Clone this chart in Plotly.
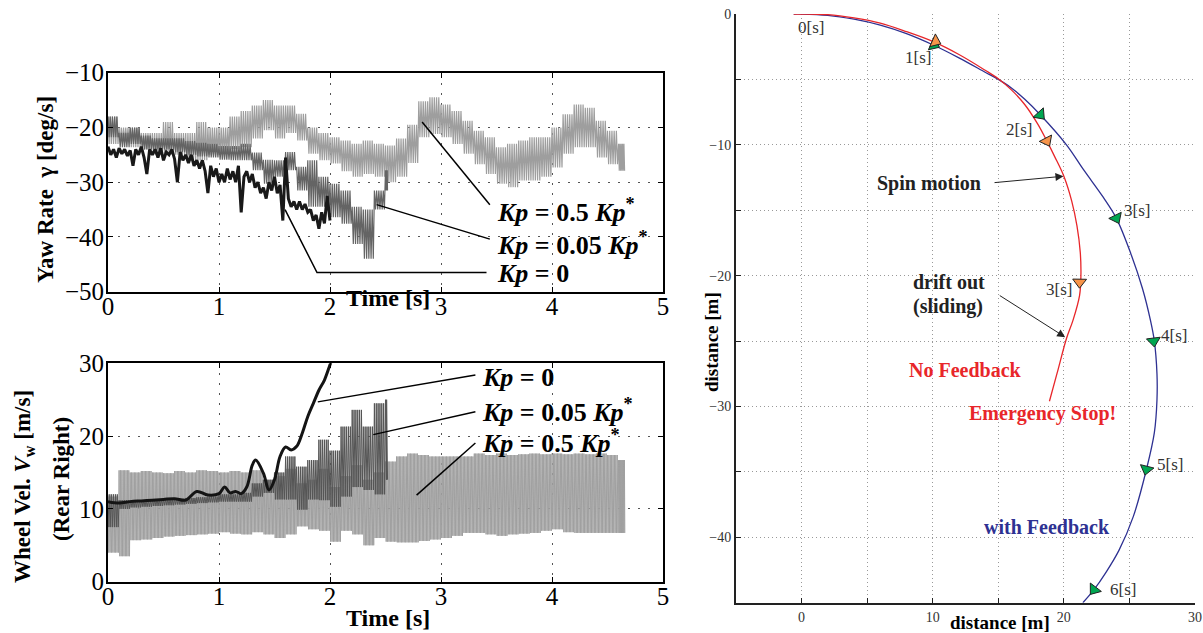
import numpy as np
import plotly.graph_objects as go

# ---------------- data ----------------
# Yaw rate [deg/s]; envelopes (upper / lower) sampled every 0.1 s
YAW_05_T = [round(0.1 * i, 1) for i in range(47)]
YAW_05_UP = [-18, -20, -20, -21, -21, -19, -21, -21, -19, -20, -20, -18, -17, -16, -15, -16, -16, -17.5,
             -20, -21, -21.8, -22.4, -23, -22.4, -23, -23.3, -22, -19.5, -15.2, -14.5, -15.8, -17, -18.8,
             -20.6, -21.8, -23.6, -23, -22.4, -21.8, -21.8, -20, -17.6, -15.8, -16.4, -18.8, -20.6, -23]
YAW_05_LO = [-23, -22.7, -23.6, -24, -25, -25, -25, -26, -26, -25, -25, -24, -23.6, -22, -20.5, -22, -21,
             -22.4, -24.8, -26, -26.6, -28, -29, -28.5, -29, -30, -29, -26.5, -21.8, -21.2, -21.8, -23,
             -24.8, -26.7, -28.5, -30.3, -30.9, -29.7, -29.7, -29, -27.3, -24.8, -23.6, -23.6, -25.5,
             -26.7, -27.9]
YAW_05_END = 4.66

YAW_005_T = [round(0.1 * i, 1) for i in range(26)]
YAW_005_UP = [-18, -21, -20, -21.5, -22, -22, -22, -22.5, -22.8, -23, -23.4, -23.4, -23, -24.6, -25.9,
              -26, -24.5, -27.2, -26, -29, -30.3, -31.5, -34.5, -35, -31.5, -27.8]
YAW_005_LO = [-21.8, -23.6, -23, -24, -24, -24, -24.5, -25, -25.3, -25.5, -25.9, -26, -26, -27.8, -30.3,
              -29, -27.8, -31.5, -34.5, -34.5, -36.4, -37.6, -41.3, -44, -35, -31.5]
YAW_005_END = 2.52

YAW_0_T = [round(0.025 * i, 3) for i in range(81)]
YAW_0 = [-23.5, -25, -24, -25.5, -23.8, -24.8, -24, -25.2, -24.2,
         -27, -24, -25, -23.5, -25.5, -28.5, -24, -25,
         -24, -25.5, -23.8, -26, -24.5, -25, -24, -25.8,
         -30, -24.5, -26, -25, -26.5, -25, -27, -26,
         -27.5, -26, -28, -32, -27, -29, -27.5, -30,
         -28.5, -30, -27.5, -29.5, -28, -30, -27, -35.5,
         -29, -28, -30, -28.5, -31, -30, -32, -31,
         -33, -30, -31.5, -29, -32, -30.5, -37, -25.5,
         -33, -34.5, -33.5, -35, -33.5, -35, -34, -35.5,
         -35, -37, -36, -38.5, -35.5, -37.5, -32.5, -37]

# Wheel velocity [m/s]
WV_05_T = [round(0.1 * i, 1) for i in range(47)]
WV_05_UP = [11.7, 15.3, 15, 15.2, 15, 14.9, 15.2, 15, 15.3, 15.2, 15, 15.2, 15, 15.3, 14, 14.5, 15.5, 13.5,
            14, 15.5, 13, 14.5, 16, 14, 15, 16.5, 17.2, 17.6, 17.4, 17.2, 17.2, 17.2, 17.2, 17.6, 17.4,
            17.6, 17.4, 17.5, 17.6, 17.5, 17.6, 17.5, 17.6, 17.5, 17.6, 17.4, 16.7]
WV_05_LO = [4, 3.5, 5.7, 5.8, 6, 6.2, 6.3, 6.4, 6.5, 6.6, 6.8, 6.6, 6.5, 6.8, 6.5, 6, 6.5, 7.6, 7.2, 7,
            5.5, 7, 6.5, 5, 6, 5.5, 5.4, 5.4, 5.6, 5.8, 6, 6.3, 6.7, 6.7, 6.5, 6.3, 6.5, 6.6, 6.7, 7.0,
            7.2, 6.8, 6.7, 6.7, 6.7, 6.7, 6.7]
WV_05_END = 4.66

WV_005_T = [round(0.1 * i, 1) for i in range(26)]
WV_005_UP = [12, 11.2, 11.2, 11.2, 11.3, 11.3, 11.4, 11.5, 11.6, 11.7, 12, 12, 12.2, 13.5, 14, 15, 17.2,
             15.8, 16.7, 19.5, 18, 21.3, 23.6, 21.3, 24.5, 25]
WV_005_LO = [7.5, 10, 10.2, 10.3, 10.4, 10.5, 10.6, 10.7, 10.8, 10.9, 11, 11, 11, 11.7, 12.2, 11.3, 11.3,
             9.9, 11.3, 11.2, 10.3, 11.7, 13, 12.6, 12, 14]
WV_005_END = 2.52

WV_0_T = [0, 0.1, 0.2, 0.3, 0.4, 0.5, 0.6, 0.7, 0.8, 0.9, 1.0, 1.05, 1.1, 1.15, 1.2, 1.25, 1.3, 1.33,
          1.4, 1.45, 1.5, 1.55, 1.6, 1.65, 1.7, 1.75, 1.8, 1.85, 1.9, 1.95, 2.0, 2.05]
WV_0 = [11.0, 10.8, 11.0, 11.1, 11.2, 11.3, 11.4, 11.2, 12.4, 11.9, 12.1, 13.0, 12.2, 12.4, 12.1, 13.0,
        16.0, 16.7, 14.9, 12.6, 14.0, 17.2, 18.5, 18.1, 18.6, 20.4, 22.7, 24.5, 26.3, 27.7, 29.8, 32.0]

# Trajectories [m]
NF_X = [-0.6, 0, 2, 4, 6, 8, 10, 12, 14, 15, 16, 17, 18, 18.7, 19.3, 20, 20.6, 21.0, 21.25, 21.3,
        21.2, 20.7, 20.2, 19.5, 18.9]
NF_Y = [0, 0, -0.05, -0.3, -0.7, -1.35, -2.1, -3.1, -4.3, -4.95, -5.8, -6.9, -8.4, -9.7, -10.9, -12.4,
        -14.3, -16.2, -18.2, -20.0, -21.5, -23.4, -24.8, -27.4, -29.6]
WF_X = [-0.6, 0, 2, 4, 6, 8, 10, 12, 14, 15, 16, 17, 18.2, 20.2, 21.5, 23, 24, 25.1, 26, 26.6, 26.9,
        27.1, 27.1, 26.9, 26.3, 25.3, 24.2, 23.2, 22.3, 21.45]
WF_Y = [0, 0, -0.1, -0.4, -0.85, -1.5, -2.35, -3.35, -4.45, -5.0, -5.65, -6.5, -7.7, -10.0, -11.9,
        -14.0, -15.6, -18.3, -21, -23.4, -25.0, -27.5, -29.5, -32, -34.8, -38.4, -41, -42.7, -44.0, -45.0]
NF_MARK_X = [10.2, 18.7, 21.2]
NF_MARK_Y = [-2.1, -9.7, -20.5]
WF_MARK_X = [10.1, 18.2, 24.0, 26.85, 26.3, 22.3]
WF_MARK_Y = [-2.35, -7.7, -15.6, -25.0, -34.8, -44.0]
TIME_LABELS = ["0[s]", "1[s]", "2[s]", "3[s]", "3[s]", "4[s]", "5[s]", "6[s]"]
TIME_LABEL_X = [0.7, 8.9, 16.6, 25.6, 19.65, 28.4, 28.1, 24.5]
TIME_LABEL_Y = [-1.0, -3.3, -8.85, -15.0, -21.07, -24.6, -34.4, -44.0]

# ---------------- helpers ----------------
W, H = 1203, 633
FONT = "Liberation Serif, Times New Roman, serif"


def PX(x):
    return x / W


def PY(y):
    return 1 - y / H


def zigzag(t, up, lo, n, t_end):
    xs, ys = [], []
    for i in range(len(t)):
        t0 = t[i]
        t1 = t[i + 1] if i + 1 < len(t) else t_end
        step = (t1 - t0) / (2 * n)
        for k in range(2 * n):
            xs.append(t0 + k * step)
            ys.append(up[i] if k % 2 == 0 else lo[i])
    return xs, ys


def headings(xp, yp, mx, my):
    P = np.column_stack([xp, yp])
    out = []
    for x, y in zip(mx, my):
        i = int(np.argmin(np.hypot(P[:, 0] - x, P[:, 1] - y)))
        a = P[min(i + 1, len(P) - 1)] - P[max(i - 1, 0)]
        out.append(float(np.degrees(np.arctan2(a[0], a[1]))))
    return out


fig = go.Figure()

# ---- top-left: yaw rate ----
x, y = zigzag(YAW_05_T, YAW_05_UP, YAW_05_LO, 5, YAW_05_END)
fig.add_trace(go.Scatter(x=x, y=y, mode="lines", line=dict(color="rgb(158,158,158)", width=1.2),
                         xaxis="x", yaxis="y"))
x, y = zigzag(YAW_005_T, YAW_005_UP, YAW_005_LO, 5, YAW_005_END)
fig.add_trace(go.Scatter(x=x, y=y, mode="lines", line=dict(color="rgb(100,100,100)", width=1.2),
                         xaxis="x", yaxis="y"))
fig.add_trace(go.Scatter(x=YAW_0_T, y=YAW_0, mode="lines", line=dict(color="rgb(25,25,25)", width=3),
                         xaxis="x", yaxis="y"))

# ---- bottom-left: wheel velocity ----
x, y = zigzag(WV_05_T, WV_05_UP, WV_05_LO, 8, WV_05_END)
fig.add_trace(go.Scatter(x=x, y=y, mode="lines", line=dict(color="rgb(160,160,160)", width=1.0),
                         xaxis="x2", yaxis="y2"))
x, y = zigzag(WV_005_T, WV_005_UP, WV_005_LO, 6, WV_005_END)
fig.add_trace(go.Scatter(x=x, y=y, mode="lines", line=dict(color="rgb(85,85,85)", width=1.0),
                         xaxis="x2", yaxis="y2"))
fig.add_trace(go.Scatter(x=WV_0_T, y=WV_0, mode="lines", line=dict(color="rgb(20,20,20)", width=3, shape="spline"),
                         xaxis="x2", yaxis="y2"))

# ---- right: trajectories ----
fig.add_trace(go.Scatter(x=WF_X, y=WF_Y, mode="lines", line=dict(color="#2E3192", width=1.3, shape="spline"),
                         xaxis="x3", yaxis="y3"))
fig.add_trace(go.Scatter(x=NF_X, y=NF_Y, mode="lines", line=dict(color="#E8262A", width=1.3, shape="spline"),
                         xaxis="x3", yaxis="y3"))
fig.add_trace(go.Scatter(x=WF_MARK_X, y=WF_MARK_Y, mode="markers", xaxis="x3", yaxis="y3",
                         marker=dict(symbol="triangle-up", size=12, color="#00A651",
                                     angle=headings(WF_X, WF_Y, WF_MARK_X, WF_MARK_Y),
                                     line=dict(color="#222", width=1))))
fig.add_trace(go.Scatter(x=NF_MARK_X, y=NF_MARK_Y, mode="markers", xaxis="x3", yaxis="y3",
                         marker=dict(symbol="triangle-up", size=12, color="#F7944A",
                                     angle=headings(NF_X, NF_Y, NF_MARK_X, NF_MARK_Y),
                                     line=dict(color="#222", width=1))))

# ---------------- axes ----------------
left_grid = dict(showgrid=True, gridcolor="#555", gridwidth=1.3, griddash="2px,8px", zeroline=False,
                 showline=True, linecolor="black", linewidth=2, mirror="ticks", ticks="inside",
                 ticklen=5, tickcolor="black", automargin=False,
                 tickfont=dict(family=FONT, size=25, color="black"))
right_ax = dict(tick0=0, dtick=10, showgrid=True, gridcolor="#999", gridwidth=1, griddash="1px,3px",
                zeroline=False, showline=True, linecolor="#222", linewidth=2, ticks="inside", ticklen=5,
                tickcolor="#222", automargin=False,
                minor=dict(dtick=5, tick0=0, showgrid=True, gridcolor="#999", gridwidth=1, griddash="1px,3px",
                           ticks="inside", ticklen=5, tickcolor="#222"),
                tickfont=dict(family=FONT, size=14, color="#333"))

fig.update_layout(
    xaxis=dict(domain=[PX(108), PX(663)], anchor="y", range=[0, 5], dtick=1, ticklabelstandoff=-9, **left_grid),
    yaxis=dict(domain=[PY(291.7), PY(72.7)], anchor="x", range=[-50, -10], dtick=10, ticklabelstandoff=-3,
               **left_grid),
    xaxis2=dict(domain=[PX(108), PX(663)], anchor="y2", range=[0, 5], dtick=1, ticklabelstandoff=-9, **left_grid),
    yaxis2=dict(domain=[PY(581.7), PY(363.3)], anchor="x2", range=[0, 30], dtick=10, ticklabelstandoff=-3,
                **left_grid),
    xaxis3=dict(domain=[PX(736), PX(1195)], anchor="y3", range=[-5, 30], **right_ax),
    yaxis3=dict(domain=[PY(602.7), PY(14)], anchor="x3", range=[-45, 0], **right_ax),
    width=W, height=H, margin=dict(l=0, r=0, t=0, b=0, pad=0, autoexpand=False),
    paper_bgcolor="white", plot_bgcolor="white", showlegend=False,
    font=dict(family=FONT),
)

# ---------------- leader lines (left panels) ----------------
ll = dict(color="black", width=1.5)
shapes = [
    dict(type="line", xref="x", yref="y", x0=2.83, y0=-19.0, x1=3.44, y1=-34.1, line=ll),
    dict(type="line", xref="x", yref="y", x0=2.42, y0=-34.1, x1=3.44, y1=-40.4, line=ll),
    dict(type="path", xref="x", yref="y", path="M 1.595,-35 L 1.883,-46.5 L 3.41,-46.5", line=ll),
    dict(type="line", xref="x2", yref="y2", x0=1.89, y0=24.7, x1=3.31, y1=28.4, line=ll),
    dict(type="line", xref="x2", yref="y2", x0=2.39, y0=20.2, x1=3.31, y1=23.35, line=ll),
    dict(type="line", xref="x2", yref="y2", x0=2.78, y0=11.9, x1=3.31, y1=19.05, line=ll),
]
fig.update_layout(shapes=shapes)

ann = []


def txt(text, x, y, size, color="black", xanchor="center", angle=0, yanchor="middle"):
    ann.append(dict(text=text, x=PX(x), y=PY(y), xref="paper", yref="paper", showarrow=False,
                    xanchor=xanchor, yanchor=yanchor, textangle=angle,
                    font=dict(family=FONT, size=size, color=color)))


KP = "<i>Kp</i>"
# Kp labels
txt("<b>%s = 0.5 %s<sup>*</sup></b>" % (KP, KP), 495, 210, 26, xanchor="left")
txt("<b>%s = 0.05 %s<sup>*</sup></b>" % (KP, KP), 495, 243, 26, xanchor="left")
txt("<b>%s = 0</b>" % KP, 495, 273, 26, xanchor="left")
txt("<b>%s = 0</b>" % KP, 480, 377, 26, xanchor="left")
txt("<b>%s = 0.05 %s<sup>*</sup></b>" % (KP, KP), 480, 410, 26, xanchor="left")
txt("<b>%s = 0.5 %s<sup>*</sup></b>" % (KP, KP), 480, 441, 26, xanchor="left")

# axis titles (left)
txt("<b>Time [s]</b>", 388, 298, 24)
txt("<b>Time [s]</b>", 388, 618, 24)
txt("<b>Yaw Rate&nbsp;&nbsp;γ [deg/s]</b>", 45, 190, 23, angle=-90)
txt("<b>Wheel Vel. <i>V</i><sub>w</sub> [m/s]</b>", 24, 487, 23, angle=-90)
txt("<b>(Rear Right)</b>", 61, 479, 23, angle=-90)

# right panel texts
txt("<b>distance [m]</b>", 1000, 622, 19)
txt("<b>distance [m]</b>", 711, 342, 19, angle=-90)
txt("<b>Spin motion</b>", 929, 183, 20, color="#222")
txt("<b>drift out</b>", 949, 282, 20, color="#222")
txt("<b>(sliding)</b>", 948, 306, 20, color="#222")
txt("<b>No Feedback</b>", 966, 370, 20, color="#E8262A")
txt("<b>Emergency Stop!</b>", 1042, 413, 20, color="#E8262A")
txt("<b>with Feedback</b>", 1047, 527, 20, color="#2E3192")

for t, xx, yy in zip(TIME_LABELS, TIME_LABEL_X, TIME_LABEL_Y):
    ann.append(dict(text=t, x=xx, y=yy, xref="x3", yref="y3", showarrow=False,
                    font=dict(family=FONT, size=17, color="#333")))

# arrows in right panel
for hx, hy, tx, ty in [(19.97, -12.4, 14.6, -12.9), (20.1, -24.7, 15.0, -21.45)]:
    ann.append(dict(text="", x=hx, y=hy, ax=tx, ay=ty, xref="x3", yref="y3", axref="x3", ayref="y3",
                    showarrow=True, arrowhead=2, arrowsize=1.6, arrowwidth=1, arrowcolor="#222"))

fig.update_layout(annotations=ann)
fig.write_html("out.html")
